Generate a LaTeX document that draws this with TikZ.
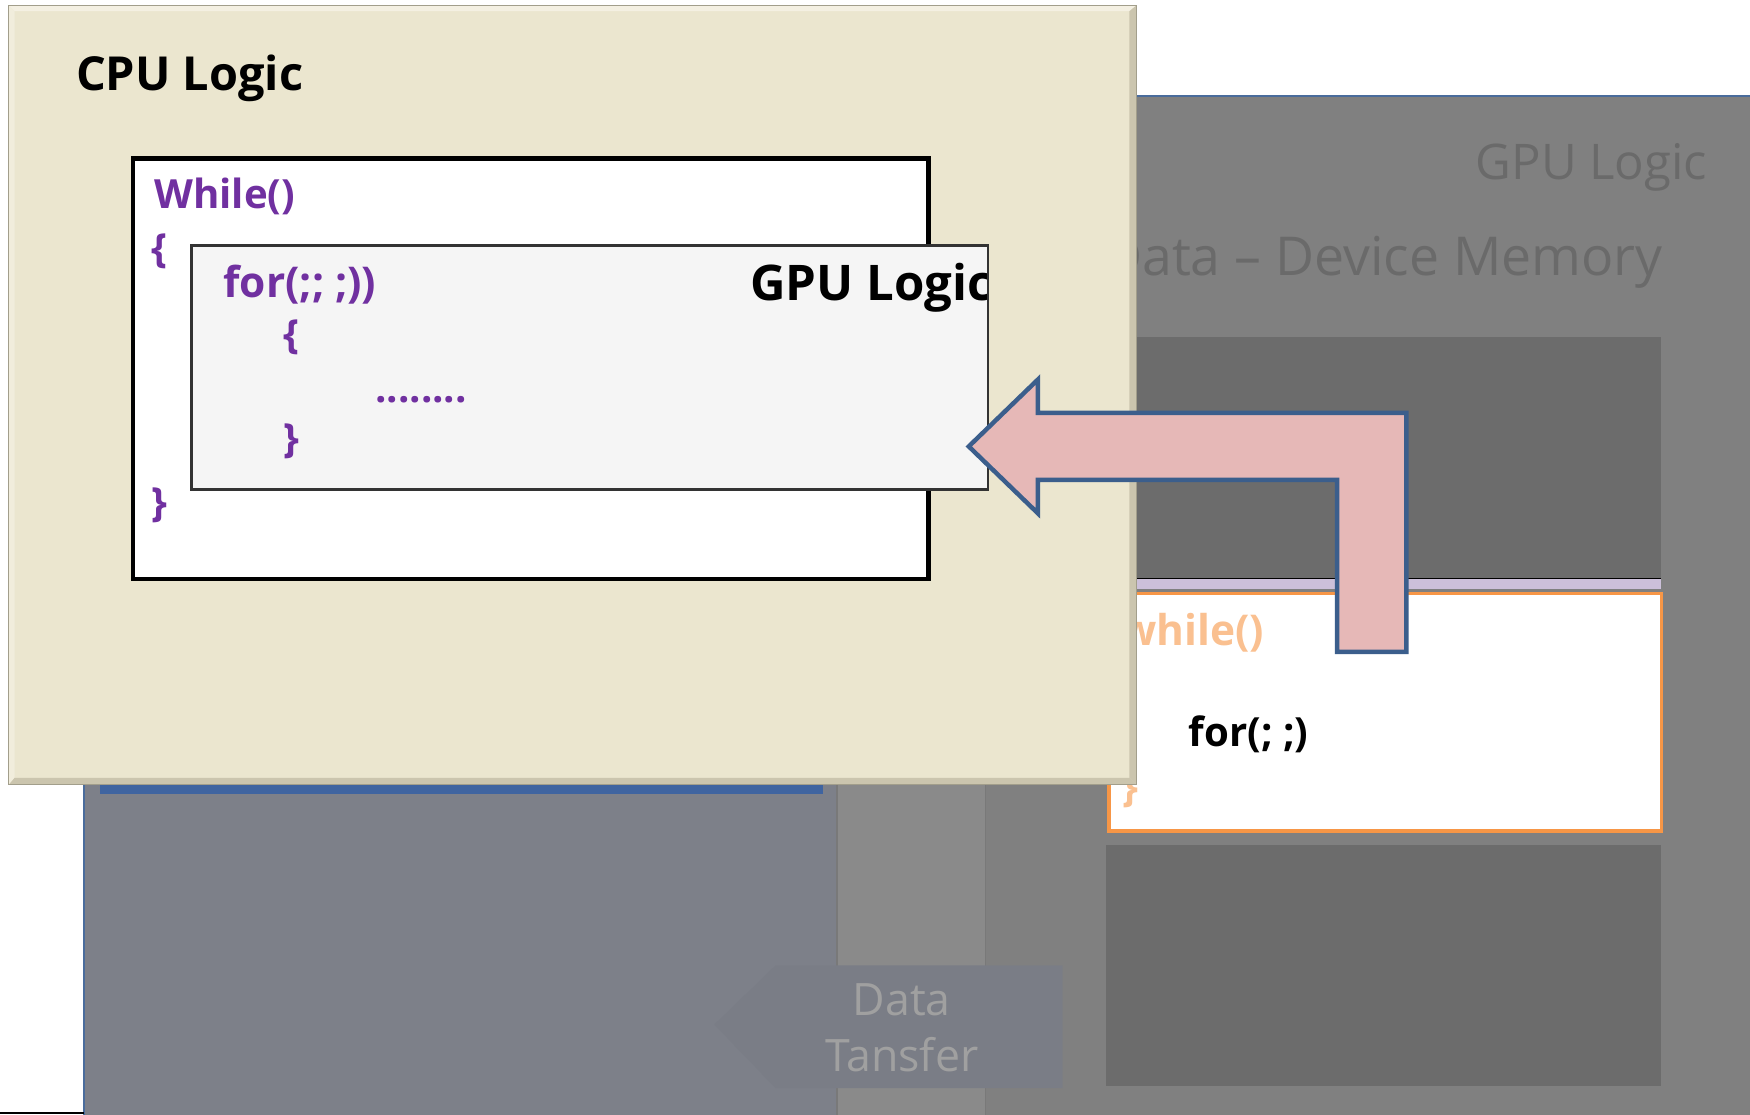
\documentclass[tikz,border=0pt]{standalone}
\usepackage{fontspec}
\setmainfont{Open Sans}
\definecolor{bggray}{HTML}{808080}
\definecolor{bgblue}{HTML}{7D8089}
\definecolor{stripe}{HTML}{8A8A8A}
\definecolor{darkbox}{HTML}{6C6C6C}
\definecolor{ghost}{HTML}{6A6A6A}
\definecolor{ghostlight}{HTML}{A0A0A0}
\definecolor{pentfill}{HTML}{7A7D86}
\definecolor{panelblue}{HTML}{4A6C9C}
\definecolor{barblue}{HTML}{3F64A0}
\definecolor{beige}{HTML}{EBE6CF}
\definecolor{beigedark}{HTML}{CBC5AE}
\definecolor{beigelight}{HTML}{F4F0E2}
\definecolor{codepurple}{HTML}{7030A0}
\definecolor{lav}{HTML}{CCC0DA}
\definecolor{orng}{HTML}{F79646}
\definecolor{lorng}{HTML}{FAC090}
\definecolor{pinkfill}{HTML}{E6B8B7}
\definecolor{arrowblue}{HTML}{3B5E8C}
\definecolor{innergray}{HTML}{F5F5F5}
\tikzset{
  txt/.style={inner sep=0pt, font=\fontsize{#1}{#1}\selectfont\bfseries},
  txt/.default=36,
  ghosttxt/.style={inner sep=0pt, text=ghost, font=\fontsize{#1}{#1}\selectfont},
  code/.style={txt=36, text=codepurple}
}
\begin{document}
\begin{tikzpicture}[x=1pt,y=-1pt]
\useasboundingbox (0,0) rectangle (1568,999);
\fill[white] (0,0) rectangle (1568,999);
% background gray panel
\fill[bggray] (75,86) rectangle (1568,999);
\fill[bgblue] (75,86) rectangle (750,999);
\fill[stripe] (750,600) rectangle (883,999);
\draw[line width=1.5pt, color=ghost!90] (750,600) -- (750,999) (883,600) -- (883,999);
\draw[panelblue, line width=2pt] (75,999) -- (75,86) -- (1568,86);
\draw[black, line width=2pt] (0,997) -- (75,997);
% blue bar under CPU panel
\fill[barblue] (90,690) rectangle (737,711);
% ghost texts
\node[ghosttxt=44, anchor=east] (gpuback) at (1530,150) {GPU Logic};
\node[ghosttxt=48, anchor=east] (devmem) at (1490,235) {Data – Device Memory};
% device memory blocks
\fill[darkbox] (991,302) rectangle (1488,518);
\draw[black, line width=1pt] (991,518) -- (1488,518);
\fill[lav] (991,519) rectangle (1488,528);
\node[draw=orng, fill=white, line width=3pt, minimum width=495pt, minimum height=213pt, inner sep=0pt, anchor=north west] (kbox) at (992,530) {};
\node[txt=38, text=lorng, anchor=east] (kwhile) at (1133,567) {while()};
\node[txt=36, text=lorng, anchor=east] (kopen) at (1020,612) {\{};
\node[txt=36, text=lorng, anchor=east] (kclose) at (1020,708) {\}};
\node[txt=36, text=black, anchor=west] (kfor) at (1065,658) {for(; ;)};
\fill[darkbox] (991,757) rectangle (1488,973);
% Data transfer pentagon
\fill[pentfill] (640,918) -- (695,865) -- (952,865) -- (952,975) -- (695,975) -- cycle;
\node[inner sep=0pt, text=ghostlight, font=\fontsize{40}{50}\selectfont, align=center] (dtrans) at (808,921) {Data\\Tansfer};
% CPU panel with bevel
\fill[beige] (8,5) rectangle (1018,703);
\fill[beigelight] (8,5) -- (1018,5) -- (1012,10) -- (13,10) -- cycle;
\fill[beigelight!70!beige] (8,5) -- (13,10) -- (13,697) -- (8,703) -- cycle;
\fill[beigedark] (1018,5) -- (1018,703) -- (1012,697) -- (1012,10) -- cycle;
\fill[beigedark] (8,703) -- (1018,703) -- (1012,697) -- (13,697) -- cycle;
\draw[color=beigedark!80!black, line width=1pt] (8,5) rectangle (1018,703);
\node[txt=42, anchor=west] (cpulabel) at (68,70) {CPU Logic};
% host code box
\node[draw=black, fill=white, line width=4pt, minimum width=713pt, minimum height=377pt, inner sep=0pt, anchor=north west] (hostbox) at (117,140) {};
\node[code, anchor=west] (hwhile) at (138,176) {While()};
\node[code] (hopen) at (143,225) {\{};
\node[code] (hclose) at (143,453) {\}};
% inner GPU logic box
\node[draw=black!80, fill=innergray, line width=2.5pt, minimum width=714pt, minimum height=218pt, inner sep=0pt, anchor=north west] (gpubox) at (170,219) {};
\begin{scope}
\clip (170,219) rectangle (884,437);
\node[txt=44, anchor=west] (gpulabel) at (672,258) {GPU Logic};
\end{scope}
\node[txt=38, text=codepurple, anchor=west] (ifor) at (200,255) {for(;; ;))};
\node[code] (iopen) at (261,302) {\{};
\node[code, anchor=west] (idots) at (336,358) {........};
\node[code] (iclose) at (261,395) {\}};
% bent pink arrow
\draw[fill=pinkfill, draw=arrowblue, line width=4pt, line join=miter]
  (868,400) -- (930,340) -- (930,370) -- (1260,370) -- (1260,584) -- (1198,584)
  -- (1198,430) -- (930,430) -- (930,460) -- cycle;
\end{tikzpicture}
\end{document}
